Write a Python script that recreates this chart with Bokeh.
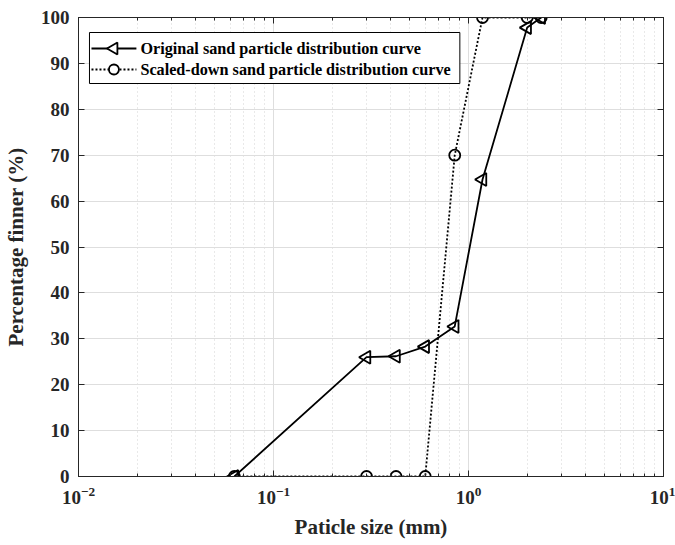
import math
from bokeh.plotting import figure
from bokeh.models import (LogAxis, LinearAxis, FixedTicker, ColumnDataSource,
                          Range1d, LinearScale)
from bokeh.core.properties import value
from bokeh.embed import file_html
from bokeh.resources import INLINE

# ---- data ----
sizes_mm = [0.063, 0.3, 0.425, 0.6, 0.85, 1.18, 2.0, 2.36]
original_pct = [0, 26.0, 26.2, 28.3, 32.7, 64.7, 97.8, 100]
scaled_pct = [0, 0, 0, 0, 70.0, 100, 100, 100]
x_major = [0.01, 0.1, 1, 10]
y_major = [0, 10, 20, 30, 40, 50, 60, 70, 80, 90, 100]
legend_labels = ["Original sand particle distribution curve",
                 "Scaled-down sand particle distribution curve"]
x_title = "Paticle size (mm)"
y_title = "Percentage finner (%)"

x_minor = [m * d for d in x_major[:-1] for m in range(2, 10)]

FONT = "Liberation Serif"
AX = "#262626"
W, H = 675, 545
BL, BR, BT, BB = 77, 12, 17, 69
FRAME_W, FRAME_H = W - BL - BR, H - BT - BB
LW = 1.8

# legend box layout (screen px measured from the frame's bottom-left corner)
LEG_L, LEG_R, LEG_B, LEG_T = 11, 382, 393, 444
ROW_Y = [428, 407]
GL_L, GL_R = 13, 58
TXT_X = 62

p = figure(width=W, height=H, x_axis_type="log",
           x_range=Range1d(0.01, 10), y_range=Range1d(0, 100),
           output_backend="svg", toolbar_location=None,
           min_border_left=BL, min_border_right=BR,
           min_border_top=BT, min_border_bottom=BB)
p.outline_line_color = AX
p.outline_line_width = 1
p.background_fill_color = "white"
p.border_fill_color = "white"
p.extra_x_ranges = {"px": Range1d(0, FRAME_W)}
p.extra_y_ranges = {"py": Range1d(0, FRAME_H)}
p.extra_x_scales = {"px": LinearScale()}
p.extra_y_scales = {"py": LinearScale()}

xt = FixedTicker(ticks=x_major, minor_ticks=x_minor)
yt = FixedTicker(ticks=y_major, minor_ticks=[])

for ax in p.xaxis:
    ax.ticker = xt
for ax in p.yaxis:
    ax.ticker = yt

def style(ax, labels=True):
    ax.axis_line_color = AX
    ax.major_tick_in = 6
    ax.major_tick_out = 0
    ax.major_tick_line_color = AX
    ax.minor_tick_in = 3
    ax.minor_tick_out = 0
    ax.minor_tick_line_color = AX
    if labels:
        ax.major_label_text_font = FONT
        ax.major_label_text_font_style = "bold"
        ax.major_label_text_font_size = "19px"
        ax.major_label_text_color = AX
        ax.axis_label_text_font = FONT
        ax.axis_label_text_font_style = "bold"
        ax.axis_label_text_font_size = "21px"
        ax.axis_label_text_color = AX
    else:
        ax.major_label_text_font_size = "1px"
        ax.major_label_text_alpha = 0
        ax.major_label_standoff = 0

style(p.xaxis[0])
style(p.yaxis[0])
p.xaxis[0].axis_label = x_title
p.yaxis[0].axis_label = y_title
p.xaxis[0].major_label_standoff = 10
p.xaxis[0].axis_label_standoff = 8
p.yaxis[0].major_label_standoff = 9
p.yaxis[0].axis_label_standoff = 10
p.yaxis[0].minor_tick_line_color = None

top = LogAxis(ticker=xt)
style(top, labels=False)
right = LinearAxis(ticker=yt)
style(right, labels=False)
right.minor_tick_line_color = None
p.add_layout(top, "above")
p.add_layout(right, "right")

p.xgrid.ticker = xt
p.ygrid.ticker = yt
p.xgrid.grid_line_color = "#dedede"
p.ygrid.grid_line_color = "#dedede"
p.xgrid.minor_grid_line_color = "#d2d2d2"
p.xgrid.minor_grid_line_dash = "1 3"

src = ColumnDataSource(dict(x=sizes_mm, o=original_pct, s=scaled_pct))

p.line("x", "s", source=src, line_color="black", line_width=LW, line_dash="2 2")
p.scatter("x", "s", source=src, marker="circle", size=11,
          fill_color=None, line_color="black", line_width=LW)
p.line("x", "o", source=src, line_color="black", line_width=LW)
p.scatter("x", "o", source=src, marker="triangle", angle=math.pi / 2, size=13,
          fill_color=None, line_color="black", line_width=LW)

# ---- legend box (drawn with glyphs so that the left-pointing triangle shows) ----
kw = dict(x_range_name="px", y_range_name="py")
p.quad(left=[LEG_L], right=[LEG_R], bottom=[LEG_B], top=[LEG_T],
       fill_color="white", line_color="black", line_width=1, **kw)
p.segment(x0=[GL_L], x1=[GL_R], y0=[ROW_Y[0]], y1=[ROW_Y[0]],
          line_color="black", line_width=LW, **kw)
p.segment(x0=[GL_L], x1=[GL_R], y0=[ROW_Y[1]], y1=[ROW_Y[1]],
          line_color="black", line_width=LW, line_dash="2 2", **kw)
gx = (GL_L + GL_R) / 2
p.scatter(x=[gx], y=[ROW_Y[0]], marker="triangle", angle=math.pi / 2, size=12,
          fill_color="white", line_color="black", line_width=LW, **kw)
p.scatter(x=[gx], y=[ROW_Y[1]], marker="circle", size=10,
          fill_color="white", line_color="black", line_width=LW, **kw)
p.text(x=[TXT_X, TXT_X], y=ROW_Y, text=legend_labels,
       text_font=value(FONT), text_font_style="bold", text_font_size="16.2px",
       text_color="black", text_baseline="middle", text_align="left", **kw)

open("out.html", "w").write(file_html(p, INLINE))
